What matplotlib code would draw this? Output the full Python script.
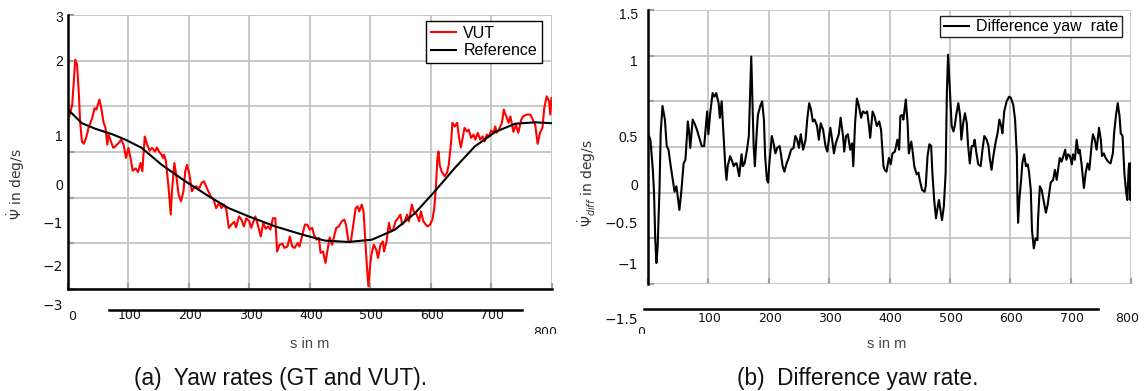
import matplotlib.pyplot as plt
from matplotlib.transforms import Bbox

plt.rcParams['font.family'] = ['Liberation Sans', 'DejaVu Sans']
plt.rcParams['mathtext.fontset'] = 'dejavusans'

# %% data (s in m, values in grid units)
ref_s = [0, 23, 45, 73, 95, 122, 155, 194, 233, 266, 299, 343, 388, 425, 464,
         503, 541, 574, 607, 640, 673, 707, 740, 773, 800]
ref_v = [0.93, 0.63, 0.51, 0.39, 0.27, 0.09, -0.28, -0.64, -0.97, -1.23, -1.41,
         -1.63, -1.81, -1.94, -1.97, -1.92, -1.70, -1.34, -0.86, -0.35, 0.12,
         0.44, 0.62, 0.65, 0.63]

vut_s = [0, 2, 7, 12, 15, 18, 20, 23, 26, 30, 34, 40, 44, 47, 52, 55, 59, 62,
         65, 67, 71, 75, 78, 84, 88, 92, 96, 100, 104, 107, 112, 116, 120, 123,
         127, 131, 135, 139, 144, 147, 151, 155, 157, 159, 162, 166, 170, 172,
         176, 179, 183, 187, 191, 194, 197, 201, 205, 208, 212, 217, 221, 225,
         230, 236, 241, 245, 250, 254, 258, 262, 266, 271, 275, 278, 283, 287,
         291, 295, 300, 303, 308, 310, 314, 319, 323, 327, 331, 335, 339, 343,
         346, 350, 355, 358, 363, 367, 371, 375, 380, 383, 388,
         392, 396, 400, 404, 407, 411, 415, 418, 422, 426, 430, 433, 437, 441,
         444, 448, 453, 457, 460, 464, 468, 472, 476, 479, 482, 486, 489, 491,
         494, 497, 500, 502, 506, 510, 513, 517, 521, 523, 527, 531, 534, 538,
         542, 546, 550, 553, 557, 561, 564, 569, 572, 577, 581, 584, 588, 592,
         595, 599, 603, 606, 609, 611, 613, 615, 618, 623, 627, 630, 634, 636,
         640, 644, 647, 650, 652, 656, 660, 663, 667, 671, 674, 678, 682, 686,
         689, 693, 697, 700, 704, 707, 709, 713, 718, 721, 725, 729, 732, 737,
         741, 745, 750, 753, 759, 765, 769, 773, 777, 781, 785, 788, 792, 796,
         798, 800]
vut_v = [0.85, 0.78, 1.04, 2.02, 1.91, 1.26, 0.67, 0.23, 0.18, 0.31, 0.53, 0.74,
         0.96, 0.93, 1.15, 0.96, 0.64, 0.53, 0.16, 0.38, 0.23, 0.09, 0.12, 0.20,
         0.27, 0.16, -0.13, 0.09, -0.17, -0.41, -0.36, -0.44, -0.24, -0.42, 0.34,
         0.16, 0.03, 0.09, 0.01, 0.10, 0.00, -0.06, -0.13, -0.06, -0.20, -0.72,
         -1.37, -0.86, -0.24, -0.50, -0.93, -1.08, -0.86, -0.42, -0.28, -0.50,
         -0.86, -0.79, -0.75, -0.80, -0.68, -0.64, -0.80, -0.97, -1.04, -1.23,
         -1.12, -1.23, -1.15, -1.26, -1.66, -1.58, -1.53, -1.65, -1.41, -1.48,
         -1.63, -1.45, -1.52, -1.66, -1.48, -1.41, -1.59, -1.85, -1.55, -1.68,
         -1.63, -1.70, -1.45, -1.45, -2.18, -2.03, -2.01, -2.10, -2.07, -1.85,
         -2.07, -2.10, -1.99, -2.07, -1.81,
         -1.59, -1.59, -1.70, -1.66, -1.81, -1.92, -1.88, -2.21, -2.18, -2.43,
         -2.10, -1.87, -2.03, -1.81, -1.66, -1.63, -1.52, -1.48, -1.59, -1.96,
         -1.96, -1.59, -1.23, -1.19, -1.30, -1.15, -1.30, -1.74, -2.39, -2.94,
         -2.47, -2.25, -2.03, -2.14, -2.32, -2.03, -1.96, -2.18, -1.96, -1.55,
         -1.74, -1.70, -1.52, -1.45, -1.37, -1.59, -1.52, -1.37, -1.52, -1.15,
         -1.30, -1.37, -1.52, -1.30, -1.52, -1.59, -1.63, -1.59, -1.48, -1.23,
         -0.72, -0.17, 0.01, -0.28, -0.42, -0.53, -0.46, -0.28, 0.23, 0.64,
         0.56, 0.64, 0.31, 0.10, 0.23, 0.53, 0.45, 0.49, 0.31, 0.38, 0.27, 0.42,
         0.27, 0.34, 0.23, 0.38, 0.34, 0.47, 0.42, 0.56, 0.42, 0.49, 0.64, 0.93,
         0.78, 0.64, 0.78, 0.44, 0.60, 0.42, 0.71, 0.78, 0.82, 0.82, 0.71, 0.60,
         0.18, 0.42, 0.53, 0.96, 1.22, 1.11, 0.82, 1.18]

diff_s = [0, 4, 8, 10, 12, 14, 16, 19, 21, 24, 28, 31, 34, 37, 41, 44, 47, 50,
          52, 55, 59, 62, 66, 68, 70, 74, 77, 81, 85, 89, 93, 98, 100, 103, 107,
          110, 113, 117, 119, 122, 125, 128, 130, 132, 136, 139, 142, 145, 147,
          151, 155, 157, 160, 164, 167, 169, 171, 173, 175, 177, 180, 182, 186,
          189, 192, 194, 197, 199, 201, 205, 208, 211, 214, 218, 220, 223, 226,
          229, 233, 237, 241, 244, 247, 250, 253, 257, 261, 264, 267, 270, 273,
          276, 280, 283, 286, 290, 294, 297, 302, 305, 308, 311, 316, 319, 323,
          325, 328, 331, 335, 338, 340, 343, 346, 349, 353, 356, 360, 363, 366,
          368, 372, 375, 379, 383, 386, 390,
          392, 395, 399, 402, 405, 409, 413, 416, 418, 421, 423, 427, 430, 432,
          436, 438, 441, 445, 448, 450, 454, 458, 460, 463, 466, 469, 471, 474,
          477, 480, 482, 485, 487, 490, 493, 495, 497, 500, 503, 506, 508, 511,
          514, 517, 519, 522, 525, 528, 530, 533, 536, 539, 541, 544, 547, 551,
          554, 557, 561, 564, 566, 569, 572, 576, 579, 582, 585, 587, 590, 594,
          598, 601, 605, 608, 611, 612, 613, 615, 618, 620, 623, 626, 629, 631,
          634, 636, 639, 642, 645, 646, 649, 652, 656, 659, 662, 665, 667, 671,
          674, 677, 680, 682, 685, 688, 691, 693, 696, 699, 702, 704, 707, 710,
          713, 715, 718, 722, 725, 728, 731, 735, 737, 740, 743, 747, 750, 752,
          755, 758, 762, 766, 770, 772, 775, 778, 781, 783, 786, 789, 792, 794,
          796, 797, 799, 800]
diff_v = [0.15, 0.08, -0.25, -0.50, -1.01, -1.27, -1.09, -0.47, 0.15, 0.45,
          0.30, 0.01, -0.03, -0.18, -0.36, -0.49, -0.43, -0.58, -0.69, -0.50,
          -0.18, -0.14, 0.28, 0.17, -0.01, 0.30, 0.26, 0.19, 0.10, 0.01, 0.01,
          0.39, 0.14, 0.37, 0.59, 0.55, 0.59, 0.48, 0.32, 0.50, 0.15, -0.21,
          -0.36, -0.21, -0.10, -0.15, -0.21, -0.18, -0.18, -0.32, -0.08, -0.21,
          -0.18, -0.03, 0.12, 0.55, 0.99, 0.52, 0.01, -0.21, 0.15, 0.35, 0.45,
          0.50, 0.30, -0.10, -0.36, -0.39, -0.18, 0.12, 0.04, -0.07, -0.01, 0.01,
          -0.07, -0.21, -0.27, -0.19, -0.12, -0.03, -0.01, 0.12, 0.08, -0.01,
          0.14, -0.03, 0.08, 0.32, 0.48, 0.41, 0.28, 0.30, 0.23, 0.08, 0.26,
          0.19, 0.01, -0.05, 0.21, 0.08, -0.07, 0.04, 0.14, 0.32, 0.12, -0.05,
          0.12, 0.14, -0.03, 0.04, -0.21, 0.26, 0.53, 0.46, 0.32, 0.39, 0.37,
          0.39, 0.23, 0.10, 0.39, 0.34, 0.23, 0.28, 0.19, -0.21,
          -0.25, -0.27, -0.12, -0.19, -0.07, -0.05, 0.08, -0.03, 0.34, 0.35,
          0.30, 0.52, 0.26, -0.07, 0.06, -0.03, -0.21, -0.30, -0.28, -0.36,
          -0.47, -0.49, -0.43, -0.10, 0.03, 0.01, -0.28, -0.58, -0.78, -0.65,
          -0.58, -0.72, -0.80, -0.65, -0.28, 0.59, 1.01, 0.63, 0.23, 0.17, 0.23,
          0.37, 0.48, 0.34, 0.08, 0.26, 0.37, 0.26, 0.03, -0.18, 0.01, 0.01,
          0.08, -0.07, -0.19, -0.21, -0.03, 0.12, 0.08, 0.01, -0.12, -0.25,
          -0.10, 0.06, 0.15, 0.30, 0.23, 0.15, 0.39, 0.50, 0.55, 0.54, 0.46,
          0.30, -0.10, -0.58, -0.83, -0.58, -0.36, -0.18, -0.08, -0.21, -0.19,
          -0.27, -0.47, -0.91, -1.11, -1.00, -1.02, -0.80, -0.43, -0.47, -0.61,
          -0.72, -0.63, -0.49, -0.39, -0.36, -0.25, -0.36, -0.21, -0.12, -0.16,
          -0.10, -0.03, -0.14, -0.08, -0.10, -0.19, -0.08, -0.14, 0.08, -0.07,
          -0.03, -0.18, -0.45, -0.28, -0.18, -0.25, 0.04, 0.14, 0.08, -0.03,
          0.21, 0.08, -0.10, -0.07, -0.12, -0.16, -0.18, -0.07, 0.15, 0.34,
          0.48, 0.34, 0.15, 0.12, -0.28, -0.50, -0.58, -0.25, -0.18, -0.58,
          -0.18]

x_ticks = [0, 100, 200, 300, 400, 500, 600, 700, 800]
left_grid = [-3, -2, -1, 0, 1, 2, 3]
right_grid = [-1.5, -1.0, -0.5, 0.0, 0.5, 1.0, 1.5]
left_ylabels = ['3', '2', '1', '0', '\u22121', '\u22122', '\u22123']
right_ylabels = ['1.5', '1', '0.5', '0', '\u22120.5', '\u22121', '\u22121.5']
x_labels = ['100', '200', '300', '400', '500', '600', '700']

# %% figure
W, H = 1144, 391
fig = plt.figure(figsize=(W / 100, H / 100), dpi=100)


def px(x, y):
    return x / W, 1 - y / H


def setup(ax, ylim, grid):
    ax.set_xlim(0, 800)
    ax.set_ylim(*ylim)
    ax.set_xticks(x_ticks)
    ax.set_yticks(grid)
    ax.grid(True, color='#c4c4c4', lw=1.3)
    ax.set_axisbelow(True)
    ax.tick_params(direction='in', length=4, width=1.6, color='#a0a0a0',
                   labelbottom=False, labelleft=False)
    for side in ['top', 'right']:
        ax.spines[side].set_visible(False)
    ax.spines['left'].set_linewidth(1.8)
    ax.spines['bottom'].set_linewidth(1.8)


# left panel
ax1 = fig.add_axes([68 / W, 102 / H, 483.5 / W, 274 / H])
setup(ax1, (-3, 3), left_grid)
ax1.plot(vut_s, vut_v, color='#ff0000', lw=1.5, label='VUT')
ax1.plot(ref_s, ref_v, color='black', lw=1.5, label='Reference')
leg = ax1.legend(loc='upper right', bbox_to_anchor=(0.980, 0.978),
                 borderaxespad=0, fancybox=False, edgecolor='black',
                 framealpha=1, fontsize=11.5, handlelength=1.6,
                 handletextpad=0.45, borderpad=0.3, labelspacing=0.15)
leg.get_frame().set_linewidth(1.0)
ax1.plot([68, 751], [-0.077, -0.077], color='black', lw=1.8, clip_on=False,
         transform=ax1.get_xaxis_transform())

# right panel
ax2 = fig.add_axes([648 / W, 107 / H, 483 / W, 274 / H])
setup(ax2, (-1.5, 1.5), right_grid)
ax2.spines['bottom'].set_visible(False)
ax2.plot(diff_s, diff_v, color='black', lw=1.5, label='Difference yaw  rate')
leg = ax2.legend(loc='upper right', bbox_to_anchor=(0.981, 0.978),
                 borderaxespad=0, fancybox=False, edgecolor='#222222',
                 framealpha=1, fontsize=11.5, handlelength=1.6,
                 handletextpad=0.45, borderpad=0.2)
leg.get_frame().set_linewidth(1.0)
ax2.plot([-7, 745], [-0.091, -0.091], color='black', lw=1.8, clip_on=False,
         transform=ax2.get_xaxis_transform())

# misplaced tick labels, as in the reference
left_ly = [18, 62, 137, 186, 224, 267, 306]
right_ly = [15, 62, 138, 186, 224, 265, 320]
for lab, y in zip(left_ylabels, left_ly):
    fam = 'DejaVu Sans' if lab.startswith('\u2212') else 'Liberation Sans'
    fig.text(*px(63, y), lab, ha='right', va='center', fontsize=10,
             family=fam, color='#111111')
for lab, y in zip(right_ylabels, right_ly):
    fam = 'DejaVu Sans' if lab.startswith('\u2212') else 'Liberation Sans'
    fig.text(*px(638, y), lab, ha='right', va='center', fontsize=10,
             family=fam, color='#111111')

for ax, y in [(ax1, -0.098), (ax2, -0.125)]:
    for lab in x_labels:
        ax.text(float(lab) + 2, y, lab, ha='center', va='center', fontsize=9,
                family='DejaVu Sans', color='#111111',
                transform=ax.get_xaxis_transform())

fig.text(*px(68, 317), '0', ha='left', va='center', fontsize=9,
         family='DejaVu Sans', color='#111111')
fig.text(*px(1127, 318), '800', ha='center', va='center', fontsize=9,
         family='DejaVu Sans', color='#111111')
clip = Bbox.from_extents(0, H - 334, W, H)
for x, y, lab in [(545, 333, '800'), (641, 333, '0')]:
    t = fig.text(*px(x, y), lab, ha='center', va='center', fontsize=9,
                 family='DejaVu Sans', color='#111111')
    t.set_clip_box(clip)
    t.set_clip_on(True)

# axis titles
fig.text(*px(310, 344), 's in m', ha='center', va='center', fontsize=10.5,
         color='#444444')
fig.text(*px(887, 344), 's in m', ha='center', va='center', fontsize=10.5,
         color='#444444')
fig.text(*px(16, 184), r'$\dot{\Psi}$ in deg/s', rotation=90, ha='center',
         va='center', fontsize=10, family='DejaVu Sans', color='#333333')
fig.text(*px(587, 183), r'$\dot{\Psi}_{diff}$ in deg/s', rotation=90,
         ha='center', va='center', fontsize=10, family='DejaVu Sans',
         color='#333333')

# captions
fig.text(*px(280, 378), '(a)  Yaw rates (GT and VUT).', ha='center',
         va='center', fontsize=16.3, color='#111111')
fig.text(*px(858, 378), '(b)  Difference yaw rate.', ha='center',
         va='center', fontsize=16.3, color='#111111')

fig.savefig('out.png', dpi=100)
